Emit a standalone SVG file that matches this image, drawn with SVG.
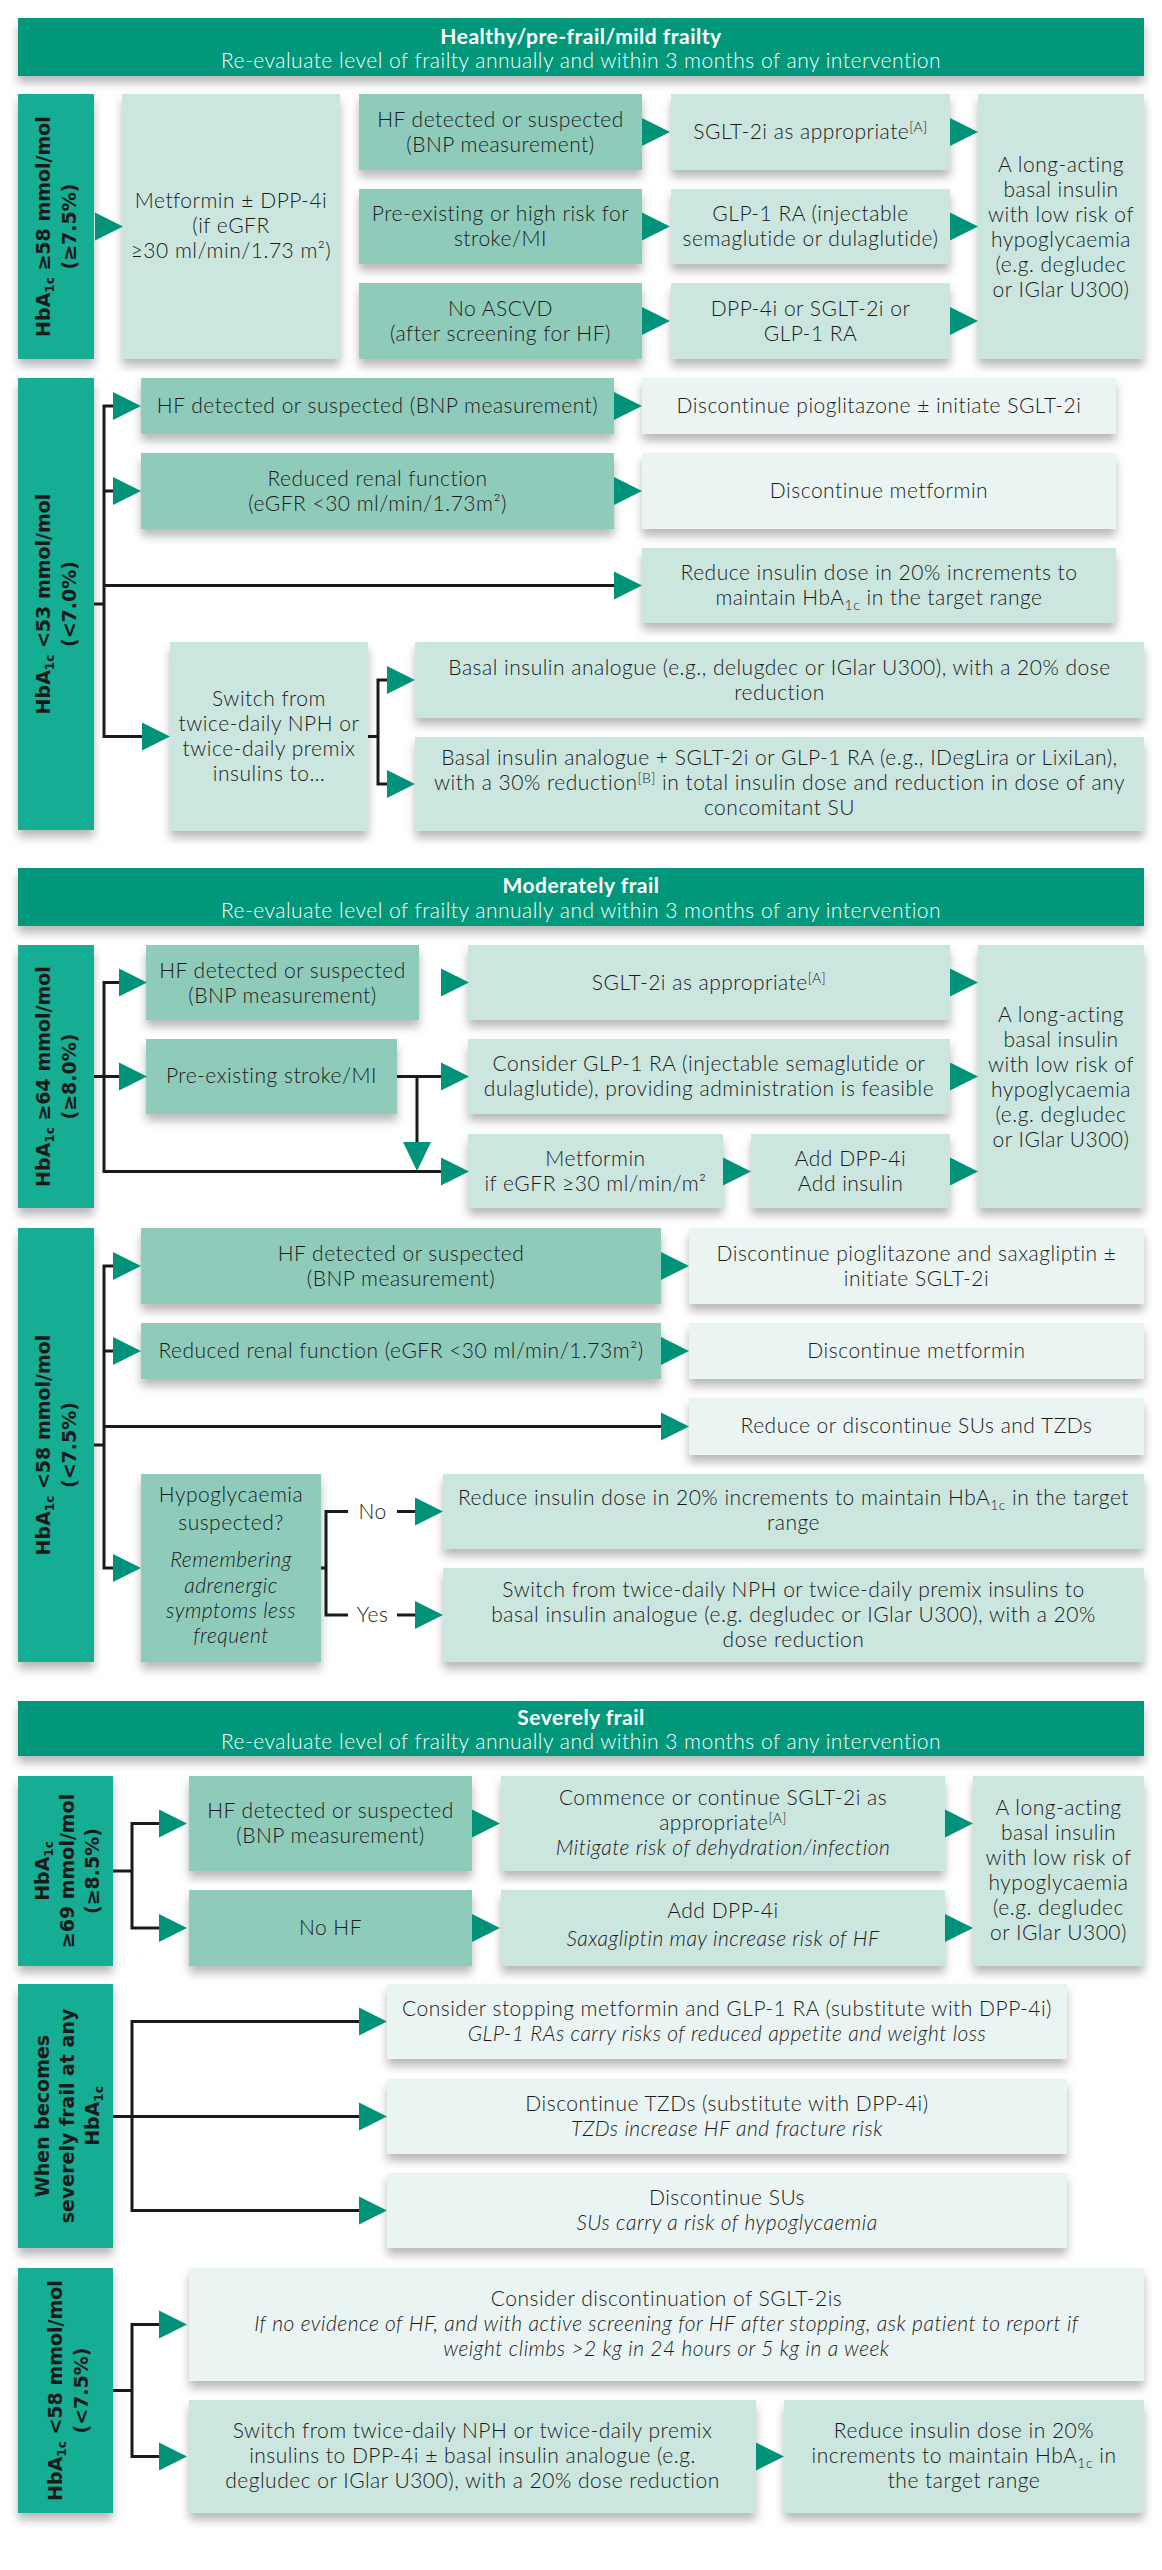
<svg xmlns="http://www.w3.org/2000/svg" xmlns:xlink="http://www.w3.org/1999/xlink" width="1162" height="2570" viewBox="0 0 1162 2570">
<defs>
<style>
.t{font-family:Lato,"Liberation Sans",sans-serif;font-size:21px;letter-spacing:0.5px;font-weight:300;fill:#1a1a1a;text-anchor:middle}
.i{font-style:italic}
.hb{font-family:Lato,"Liberation Sans",sans-serif;font-size:21px;letter-spacing:0.5px;font-weight:700;fill:#fff;text-anchor:middle}
.hs{font-family:Lato,"Liberation Sans",sans-serif;font-size:21px;letter-spacing:0.5px;font-weight:300;fill:#fff;text-anchor:middle}
.sl{font-family:"DejaVu Sans",sans-serif;font-size:19px;font-weight:bold;fill:#1a1a1a;text-anchor:middle}
.hdr{fill:#00977a}
.side{fill:#17ad95}
.cond{fill:#8fcbbb}
.med{fill:#cbe6df}
.lt{fill:#eaf5f3}
.box{filter:url(#sh)}
.arr{fill:#00937a}
.ln{stroke:#1a1a1a;stroke-width:3;fill:none}
</style>
<filter id="sh" x="-10%" y="-10%" width="120%" height="150%">
<feDropShadow dx="0" dy="7" stdDeviation="5" flood-color="#000" flood-opacity="0.28"/>
</filter>
<path id="ar" d="M0,-14 L28,0 L0,14 Z"/>
</defs>

<!-- ================= SECTION 1 ================= -->
<g id="hdr1">
<rect class="hdr box" x="18" y="18" width="1126" height="58"/>
<text class="hb" x="581" y="44">Healthy/pre-frail/mild frailty</text>
<text class="hs" x="581" y="68">Re-evaluate level of frailty annually and within 3 months of any intervention</text>
</g>

<g id="s1a-side">
<rect class="side box" x="18" y="94" width="76" height="265"/>
<text class="sl" transform="translate(56,226.5) rotate(-90)"><tspan x="0" y="-6">HbA<tspan font-size="12" dy="4">1c</tspan><tspan dy="-4"> ≥58 mmol/mol</tspan></tspan><tspan x="0" y="20">(≥7.5%)</tspan></text>
</g>
<g id="s1a-metformin">
<rect class="med box" x="122" y="94" width="218" height="265"/>
<text class="t"><tspan x="231" y="208">Metformin ± DPP-4i</tspan><tspan x="231" y="233">(if eGFR</tspan><tspan x="231" y="258">≥30 ml/min/1.73 m²)</tspan></text>
</g>
<g id="s1a-hf">
<rect class="cond box" x="359" y="94" width="283" height="76"/>
<text class="t"><tspan x="500.5" y="127">HF detected or suspected</tspan><tspan x="500.5" y="152">(BNP measurement)</tspan></text>
</g>
<g id="s1a-sglt">
<rect class="med box" x="671" y="94" width="279" height="76"/>
<text class="t" x="810.5" y="139">SGLT-2i as appropriate<tspan font-size="14" dy="-7">[A]</tspan></text>
</g>
<g id="s1a-pre">
<rect class="cond box" x="359" y="189" width="283" height="75"/>
<text class="t"><tspan x="500.5" y="221">Pre-existing or high risk for</tspan><tspan x="500.5" y="246">stroke/MI</tspan></text>
</g>
<g id="s1a-glp">
<rect class="med box" x="671" y="189" width="279" height="75"/>
<text class="t"><tspan x="810.5" y="221">GLP-1 RA (injectable</tspan><tspan x="810.5" y="246">semaglutide or dulaglutide)</tspan></text>
</g>
<g id="s1a-noascvd">
<rect class="cond box" x="359" y="283" width="283" height="76"/>
<text class="t"><tspan x="500.5" y="316">No ASCVD</tspan><tspan x="500.5" y="341">(after screening for HF)</tspan></text>
</g>
<g id="s1a-dpp">
<rect class="med box" x="671" y="283" width="279" height="76"/>
<text class="t"><tspan x="810.5" y="316">DPP-4i or SGLT-2i or</tspan><tspan x="810.5" y="341">GLP-1 RA</tspan></text>
</g>
<g id="s1a-long">
<rect class="med box" x="978" y="94" width="166" height="265"/>
<text class="t"><tspan x="1061" y="172">A long-acting</tspan><tspan x="1061" y="197">basal insulin</tspan><tspan x="1061" y="222">with low risk of</tspan><tspan x="1061" y="247">hypoglycaemia</tspan><tspan x="1061" y="272">(e.g. degludec</tspan><tspan x="1061" y="297">or IGlar U300)</tspan></text>
</g>

<g id="s1b-side">
<rect class="side box" x="18" y="378" width="76" height="452"/>
<text class="sl" transform="translate(56,604) rotate(-90)"><tspan x="0" y="-6">HbA<tspan font-size="12" dy="4">1c</tspan><tspan dy="-4"> &lt;53 mmol/mol</tspan></tspan><tspan x="0" y="20">(&lt;7.0%)</tspan></text>
</g>
<g id="s1b-hf">
<rect class="cond box" x="141" y="378" width="473" height="56"/>
<text class="t" x="377.5" y="413">HF detected or suspected (BNP measurement)</text>
</g>
<g id="s1b-pio">
<rect class="lt box" x="642" y="378" width="474" height="56"/>
<text class="t" x="879" y="413">Discontinue pioglitazone ± initiate SGLT-2i</text>
</g>
<g id="s1b-renal">
<rect class="cond box" x="141" y="453" width="473" height="76"/>
<text class="t"><tspan x="377.5" y="486">Reduced renal function</tspan><tspan x="377.5" y="511">(eGFR &lt;30 ml/min/1.73m²)</tspan></text>
</g>
<g id="s1b-met">
<rect class="lt box" x="642" y="453" width="474" height="76"/>
<text class="t" x="879" y="498">Discontinue metformin</text>
</g>
<g id="s1b-reduce">
<rect class="med box" x="642" y="548" width="474" height="75"/>
<text class="t"><tspan x="879" y="580">Reduce insulin dose in 20% increments to</tspan><tspan x="879" y="605">maintain HbA<tspan font-size="14" dy="5">1c</tspan><tspan dy="-5"> in the target range</tspan></tspan></text>
</g>
<g id="s1b-switch">
<rect class="med box" x="170" y="642" width="198" height="189"/>
<text class="t"><tspan x="269" y="706">Switch from</tspan><tspan x="269" y="731">twice-daily NPH or</tspan><tspan x="269" y="756">twice-daily premix</tspan><tspan x="269" y="781">insulins to…</tspan></text>
</g>
<g id="s1b-basal1">
<rect class="med box" x="415" y="642" width="729" height="76"/>
<text class="t"><tspan x="779.5" y="675">Basal insulin analogue (e.g., delugdec or IGlar U300), with a 20% dose</tspan><tspan x="779.5" y="700">reduction</tspan></text>
</g>
<g id="s1b-basal2">
<rect class="med box" x="415" y="737" width="729" height="94"/>
<text class="t"><tspan x="779.5" y="765">Basal insulin analogue + SGLT-2i or GLP-1 RA (e.g., IDegLira or LixiLan),</tspan><tspan x="779.5" y="790">with a 30% reduction<tspan font-size="14" dy="-7">[B]</tspan><tspan dy="7"> in total insulin dose and reduction in dose of any</tspan></tspan><tspan x="779.5" y="815">concomitant SU</tspan></text>
</g>

<!-- ================= SECTION 2 ================= -->
<g id="hdr2">
<rect class="hdr box" x="18" y="868" width="1126" height="58"/>
<text class="hb" x="581" y="893">Moderately frail</text>
<text class="hs" x="581" y="918">Re-evaluate level of frailty annually and within 3 months of any intervention</text>
</g>

<g id="s2a-side">
<rect class="side box" x="18" y="945" width="76" height="263"/>
<text class="sl" transform="translate(56,1076.5) rotate(-90)"><tspan x="0" y="-6">HbA<tspan font-size="12" dy="4">1c</tspan><tspan dy="-4"> ≥64 mmol/mol</tspan></tspan><tspan x="0" y="20">(≥8.0%)</tspan></text>
</g>
<g id="s2a-hf">
<rect class="cond box" x="146" y="945" width="273" height="75"/>
<text class="t"><tspan x="282.5" y="978">HF detected or suspected</tspan><tspan x="282.5" y="1003">(BNP measurement)</tspan></text>
</g>
<g id="s2a-sglt">
<rect class="med box" x="468" y="945" width="482" height="75"/>
<text class="t" x="709" y="990">SGLT-2i as appropriate<tspan font-size="14" dy="-7">[A]</tspan></text>
</g>
<g id="s2a-pre">
<rect class="cond box" x="146" y="1039" width="251" height="75"/>
<text class="t" x="271.5" y="1083">Pre-existing stroke/MI</text>
</g>
<g id="s2a-glp">
<rect class="med box" x="468" y="1039" width="482" height="75"/>
<text class="t"><tspan x="709" y="1071">Consider GLP-1 RA (injectable semaglutide or</tspan><tspan x="709" y="1096">dulaglutide), providing administration is feasible</tspan></text>
</g>
<g id="s2a-met">
<rect class="med box" x="468" y="1134" width="255" height="74"/>
<text class="t"><tspan x="595.5" y="1166">Metformin</tspan><tspan x="595.5" y="1191">if eGFR ≥30 ml/min/m²</tspan></text>
</g>
<g id="s2a-dpp">
<rect class="med box" x="751" y="1134" width="199" height="74"/>
<text class="t"><tspan x="850.5" y="1166">Add DPP-4i</tspan><tspan x="850.5" y="1191">Add insulin</tspan></text>
</g>
<g id="s2a-long">
<rect class="med box" x="978" y="945" width="166" height="263"/>
<text class="t"><tspan x="1061" y="1022">A long-acting</tspan><tspan x="1061" y="1047">basal insulin</tspan><tspan x="1061" y="1072">with low risk of</tspan><tspan x="1061" y="1097">hypoglycaemia</tspan><tspan x="1061" y="1122">(e.g. degludec</tspan><tspan x="1061" y="1147">or IGlar U300)</tspan></text>
</g>

<g id="s2b-side">
<rect class="side box" x="18" y="1228" width="76" height="434"/>
<text class="sl" transform="translate(56,1445) rotate(-90)"><tspan x="0" y="-6">HbA<tspan font-size="12" dy="4">1c</tspan><tspan dy="-4"> &lt;58 mmol/mol</tspan></tspan><tspan x="0" y="20">(&lt;7.5%)</tspan></text>
</g>
<g id="s2b-hf">
<rect class="cond box" x="141" y="1228" width="520" height="76"/>
<text class="t"><tspan x="401" y="1261">HF detected or suspected</tspan><tspan x="401" y="1286">(BNP measurement)</tspan></text>
</g>
<g id="s2b-pio">
<rect class="lt box" x="689" y="1228" width="455" height="76"/>
<text class="t"><tspan x="916.5" y="1261">Discontinue pioglitazone and saxagliptin ±</tspan><tspan x="916.5" y="1286">initiate SGLT-2i</tspan></text>
</g>
<g id="s2b-renal">
<rect class="cond box" x="141" y="1323" width="520" height="56"/>
<text class="t" x="401" y="1358">Reduced renal function (eGFR &lt;30 ml/min/1.73m²)</text>
</g>
<g id="s2b-met">
<rect class="lt box" x="689" y="1323" width="455" height="56"/>
<text class="t" x="916.5" y="1358">Discontinue metformin</text>
</g>
<g id="s2b-su">
<rect class="lt box" x="689" y="1398" width="455" height="57"/>
<text class="t" x="916.5" y="1433">Reduce or discontinue SUs and TZDs</text>
</g>
<g id="s2b-hypo">
<rect class="cond box" x="141" y="1474" width="180" height="188"/>
<text class="t"><tspan x="231" y="1502">Hypoglycaemia</tspan><tspan x="231" y="1530">suspected?</tspan><tspan class="i" x="231" y="1567">Remembering</tspan><tspan class="i" x="231" y="1593">adrenergic</tspan><tspan class="i" x="231" y="1618">symptoms less</tspan><tspan class="i" x="231" y="1643">frequent</tspan></text>
</g>
<g id="s2b-reduce">
<rect class="med box" x="443" y="1474" width="701" height="75"/>
<text class="t"><tspan x="793.5" y="1505">Reduce insulin dose in 20% increments to maintain HbA<tspan font-size="14" dy="5">1c</tspan><tspan dy="-5"> in the target</tspan></tspan><tspan x="793.5" y="1530">range</tspan></text>
</g>
<g id="s2b-switch">
<rect class="med box" x="443" y="1568" width="701" height="94"/>
<text class="t"><tspan x="793.5" y="1597">Switch from twice-daily NPH or twice-daily premix insulins to</tspan><tspan x="793.5" y="1622">basal insulin analogue (e.g. degludec or IGlar U300), with a 20%</tspan><tspan x="793.5" y="1647">dose reduction</tspan></text>
</g>

<!-- ================= SECTION 3 ================= -->
<g id="hdr3">
<rect class="hdr box" x="18" y="1701" width="1126" height="55"/>
<text class="hb" x="581" y="1725">Severely frail</text>
<text class="hs" x="581" y="1749">Re-evaluate level of frailty annually and within 3 months of any intervention</text>
</g>

<g id="s3a-side">
<rect class="side box" x="18" y="1776" width="95" height="190"/>
<text class="sl" transform="translate(65.5,1871) rotate(-90)"><tspan x="0" y="-17">HbA<tspan font-size="12" dy="4">1c</tspan></tspan><tspan x="0" y="8">≥69 mmol/mol</tspan><tspan x="0" y="33">(≥8.5%)</tspan></text>
</g>
<g id="s3a-hf">
<rect class="cond box" x="189" y="1776" width="283" height="95"/>
<text class="t"><tspan x="330.5" y="1818">HF detected or suspected</tspan><tspan x="330.5" y="1843">(BNP measurement)</tspan></text>
</g>
<g id="s3a-sglt">
<rect class="med box" x="501" y="1776" width="444" height="95"/>
<text class="t"><tspan x="723" y="1805">Commence or continue SGLT-2i as</tspan><tspan x="723" y="1830">appropriate<tspan font-size="14" dy="-7">[A]</tspan></tspan><tspan class="i" x="723" y="1855">Mitigate risk of dehydration/infection</tspan></text>
</g>
<g id="s3a-nohf">
<rect class="cond box" x="189" y="1890" width="283" height="76"/>
<text class="t" x="330.5" y="1935">No HF</text>
</g>
<g id="s3a-dpp">
<rect class="med box" x="501" y="1890" width="444" height="76"/>
<text class="t"><tspan x="723" y="1918">Add DPP-4i</tspan><tspan class="i" x="723" y="1946">Saxagliptin may increase risk of HF</tspan></text>
</g>
<g id="s3a-long">
<rect class="med box" x="973" y="1776" width="171" height="190"/>
<text class="t"><tspan x="1058.5" y="1815">A long-acting</tspan><tspan x="1058.5" y="1840">basal insulin</tspan><tspan x="1058.5" y="1865">with low risk of</tspan><tspan x="1058.5" y="1890">hypoglycaemia</tspan><tspan x="1058.5" y="1915">(e.g. degludec</tspan><tspan x="1058.5" y="1940">or IGlar U300)</tspan></text>
</g>

<g id="s3b-side">
<rect class="side box" x="18" y="1984" width="95" height="264"/>
<text class="sl" transform="translate(65.5,2116) rotate(-90)"><tspan x="0" y="-17">When becomes</tspan><tspan x="0" y="8">severely frail at any</tspan><tspan x="0" y="33">HbA<tspan font-size="12" dy="4">1c</tspan></tspan></text>
</g>
<g id="s3b-met">
<rect class="lt box" x="387" y="1984" width="680" height="75"/>
<text class="t"><tspan x="727" y="2016">Consider stopping metformin and GLP-1 RA (substitute with DPP-4i)</tspan><tspan class="i" x="727" y="2041">GLP-1 RAs carry risks of reduced appetite and weight loss</tspan></text>
</g>
<g id="s3b-tzd">
<rect class="lt box" x="387" y="2079" width="680" height="75"/>
<text class="t"><tspan x="727" y="2111">Discontinue TZDs (substitute with DPP-4i)</tspan><tspan class="i" x="727" y="2136">TZDs increase HF and fracture risk</tspan></text>
</g>
<g id="s3b-su">
<rect class="lt box" x="387" y="2173" width="680" height="75"/>
<text class="t"><tspan x="727" y="2205">Discontinue SUs</tspan><tspan class="i" x="727" y="2230">SUs carry a risk of hypoglycaemia</tspan></text>
</g>

<g id="s3c-side">
<rect class="side box" x="18" y="2268" width="95" height="245"/>
<text class="sl" transform="translate(65.5,2390.5) rotate(-90)"><tspan x="0" y="-4">HbA<tspan font-size="12" dy="4">1c</tspan><tspan dy="-4"> &lt;58 mmol/mol</tspan></tspan><tspan x="0" y="22">(&lt;7.5%)</tspan></text>
</g>
<g id="s3c-sglt">
<rect class="lt box" x="189" y="2268" width="955" height="113"/>
<text class="t"><tspan x="666.5" y="2306">Consider discontinuation of SGLT-2is</tspan><tspan class="i" x="666.5" y="2331">If no evidence of HF, and with active screening for HF after stopping, ask patient to report if</tspan><tspan class="i" x="666.5" y="2356">weight climbs &gt;2 kg in 24 hours or 5 kg in a week</tspan></text>
</g>
<g id="s3c-switch">
<rect class="med box" x="189" y="2400" width="567" height="113"/>
<text class="t"><tspan x="472.5" y="2438">Switch from twice-daily NPH or twice-daily premix</tspan><tspan x="472.5" y="2463">insulins to DPP-4i ± basal insulin analogue (e.g.</tspan><tspan x="472.5" y="2488">degludec or IGlar U300), with a 20% dose reduction</tspan></text>
</g>
<g id="s3c-reduce">
<rect class="med box" x="784" y="2400" width="360" height="113"/>
<text class="t"><tspan x="964" y="2438">Reduce insulin dose in 20%</tspan><tspan x="964" y="2463">increments to maintain HbA<tspan font-size="14" dy="5">1c</tspan><tspan dy="-5"> in</tspan></tspan><tspan x="964" y="2488">the target range</tspan></text>
</g>

<!-- ================= CONNECTORS ================= -->
<g id="connectors">
<g class="ln">
<path d="M94,604H104M113,406H104V736.5H142M104,491H113M104,585.5H614"/>
<path d="M368,736.5H378M387,680H378V784H387"/>
<path d="M119,982.5H104V1171.5H441M94,1076.5H119M397,1076.5H441M417,1076.5V1143"/>
<path d="M113,1266H104V1568H113M104,1351H113M104,1426.5H661M94,1445H104"/>
<path d="M321,1568H326M348,1511.5H326V1615H348M397,1511.5H415M397,1615H415"/>
<path d="M159,1823.5H132V1928H159M113,1871H132"/>
<path d="M359,2021.5H132V2210.5H359M113,2116.5H359"/>
<path d="M159,2324.5H132V2456.5H159M113,2390.5H132"/>
</g>
<g class="arr">
<use xlink:href="#ar" x="95" y="226.5"/>
<use xlink:href="#ar" x="642" y="132"/>
<use xlink:href="#ar" x="642" y="226.5"/>
<use xlink:href="#ar" x="642" y="321"/>
<use xlink:href="#ar" x="950" y="132"/>
<use xlink:href="#ar" x="950" y="226.5"/>
<use xlink:href="#ar" x="950" y="321"/>

<use xlink:href="#ar" x="113" y="406"/>
<use xlink:href="#ar" x="614" y="406"/>
<use xlink:href="#ar" x="113" y="491"/>
<use xlink:href="#ar" x="614" y="491"/>
<use xlink:href="#ar" x="614" y="585.5"/>
<use xlink:href="#ar" x="142" y="736.5"/>
<use xlink:href="#ar" x="387" y="680"/>
<use xlink:href="#ar" x="387" y="784"/>

<use xlink:href="#ar" x="119" y="982.5"/>
<use xlink:href="#ar" x="119" y="1076.5"/>
<use xlink:href="#ar" x="441" y="982.5"/>
<use xlink:href="#ar" x="441" y="1076.5"/>
<use xlink:href="#ar" x="441" y="1171.5"/>
<use xlink:href="#ar" x="723" y="1171.5"/>
<use xlink:href="#ar" x="950" y="982.5"/>
<use xlink:href="#ar" x="950" y="1076.5"/>
<use xlink:href="#ar" x="950" y="1171.5"/>
<path d="M403,1142H431L417,1171Z"/>

<use xlink:href="#ar" x="113" y="1266"/>
<use xlink:href="#ar" x="661" y="1266"/>
<use xlink:href="#ar" x="113" y="1351"/>
<use xlink:href="#ar" x="661" y="1351"/>
<use xlink:href="#ar" x="661" y="1426.5"/>
<use xlink:href="#ar" x="113" y="1568"/>
<use xlink:href="#ar" x="415" y="1511.5"/>
<use xlink:href="#ar" x="415" y="1615"/>

<use xlink:href="#ar" x="159" y="1823.5"/>
<use xlink:href="#ar" x="159" y="1928"/>
<use xlink:href="#ar" x="472" y="1823.5"/>
<use xlink:href="#ar" x="472" y="1928"/>
<use xlink:href="#ar" x="945" y="1823.5"/>
<use xlink:href="#ar" x="945" y="1928"/>

<use xlink:href="#ar" x="359" y="2021.5"/>
<use xlink:href="#ar" x="359" y="2116.5"/>
<use xlink:href="#ar" x="359" y="2210.5"/>

<use xlink:href="#ar" x="159" y="2324.5"/>
<use xlink:href="#ar" x="159" y="2456.5"/>
<use xlink:href="#ar" x="756" y="2456.5"/>
</g>
<text class="t" x="372.5" y="1518.5">No</text>
<text class="t" x="372.5" y="1622">Yes</text>
</g>
</svg>
